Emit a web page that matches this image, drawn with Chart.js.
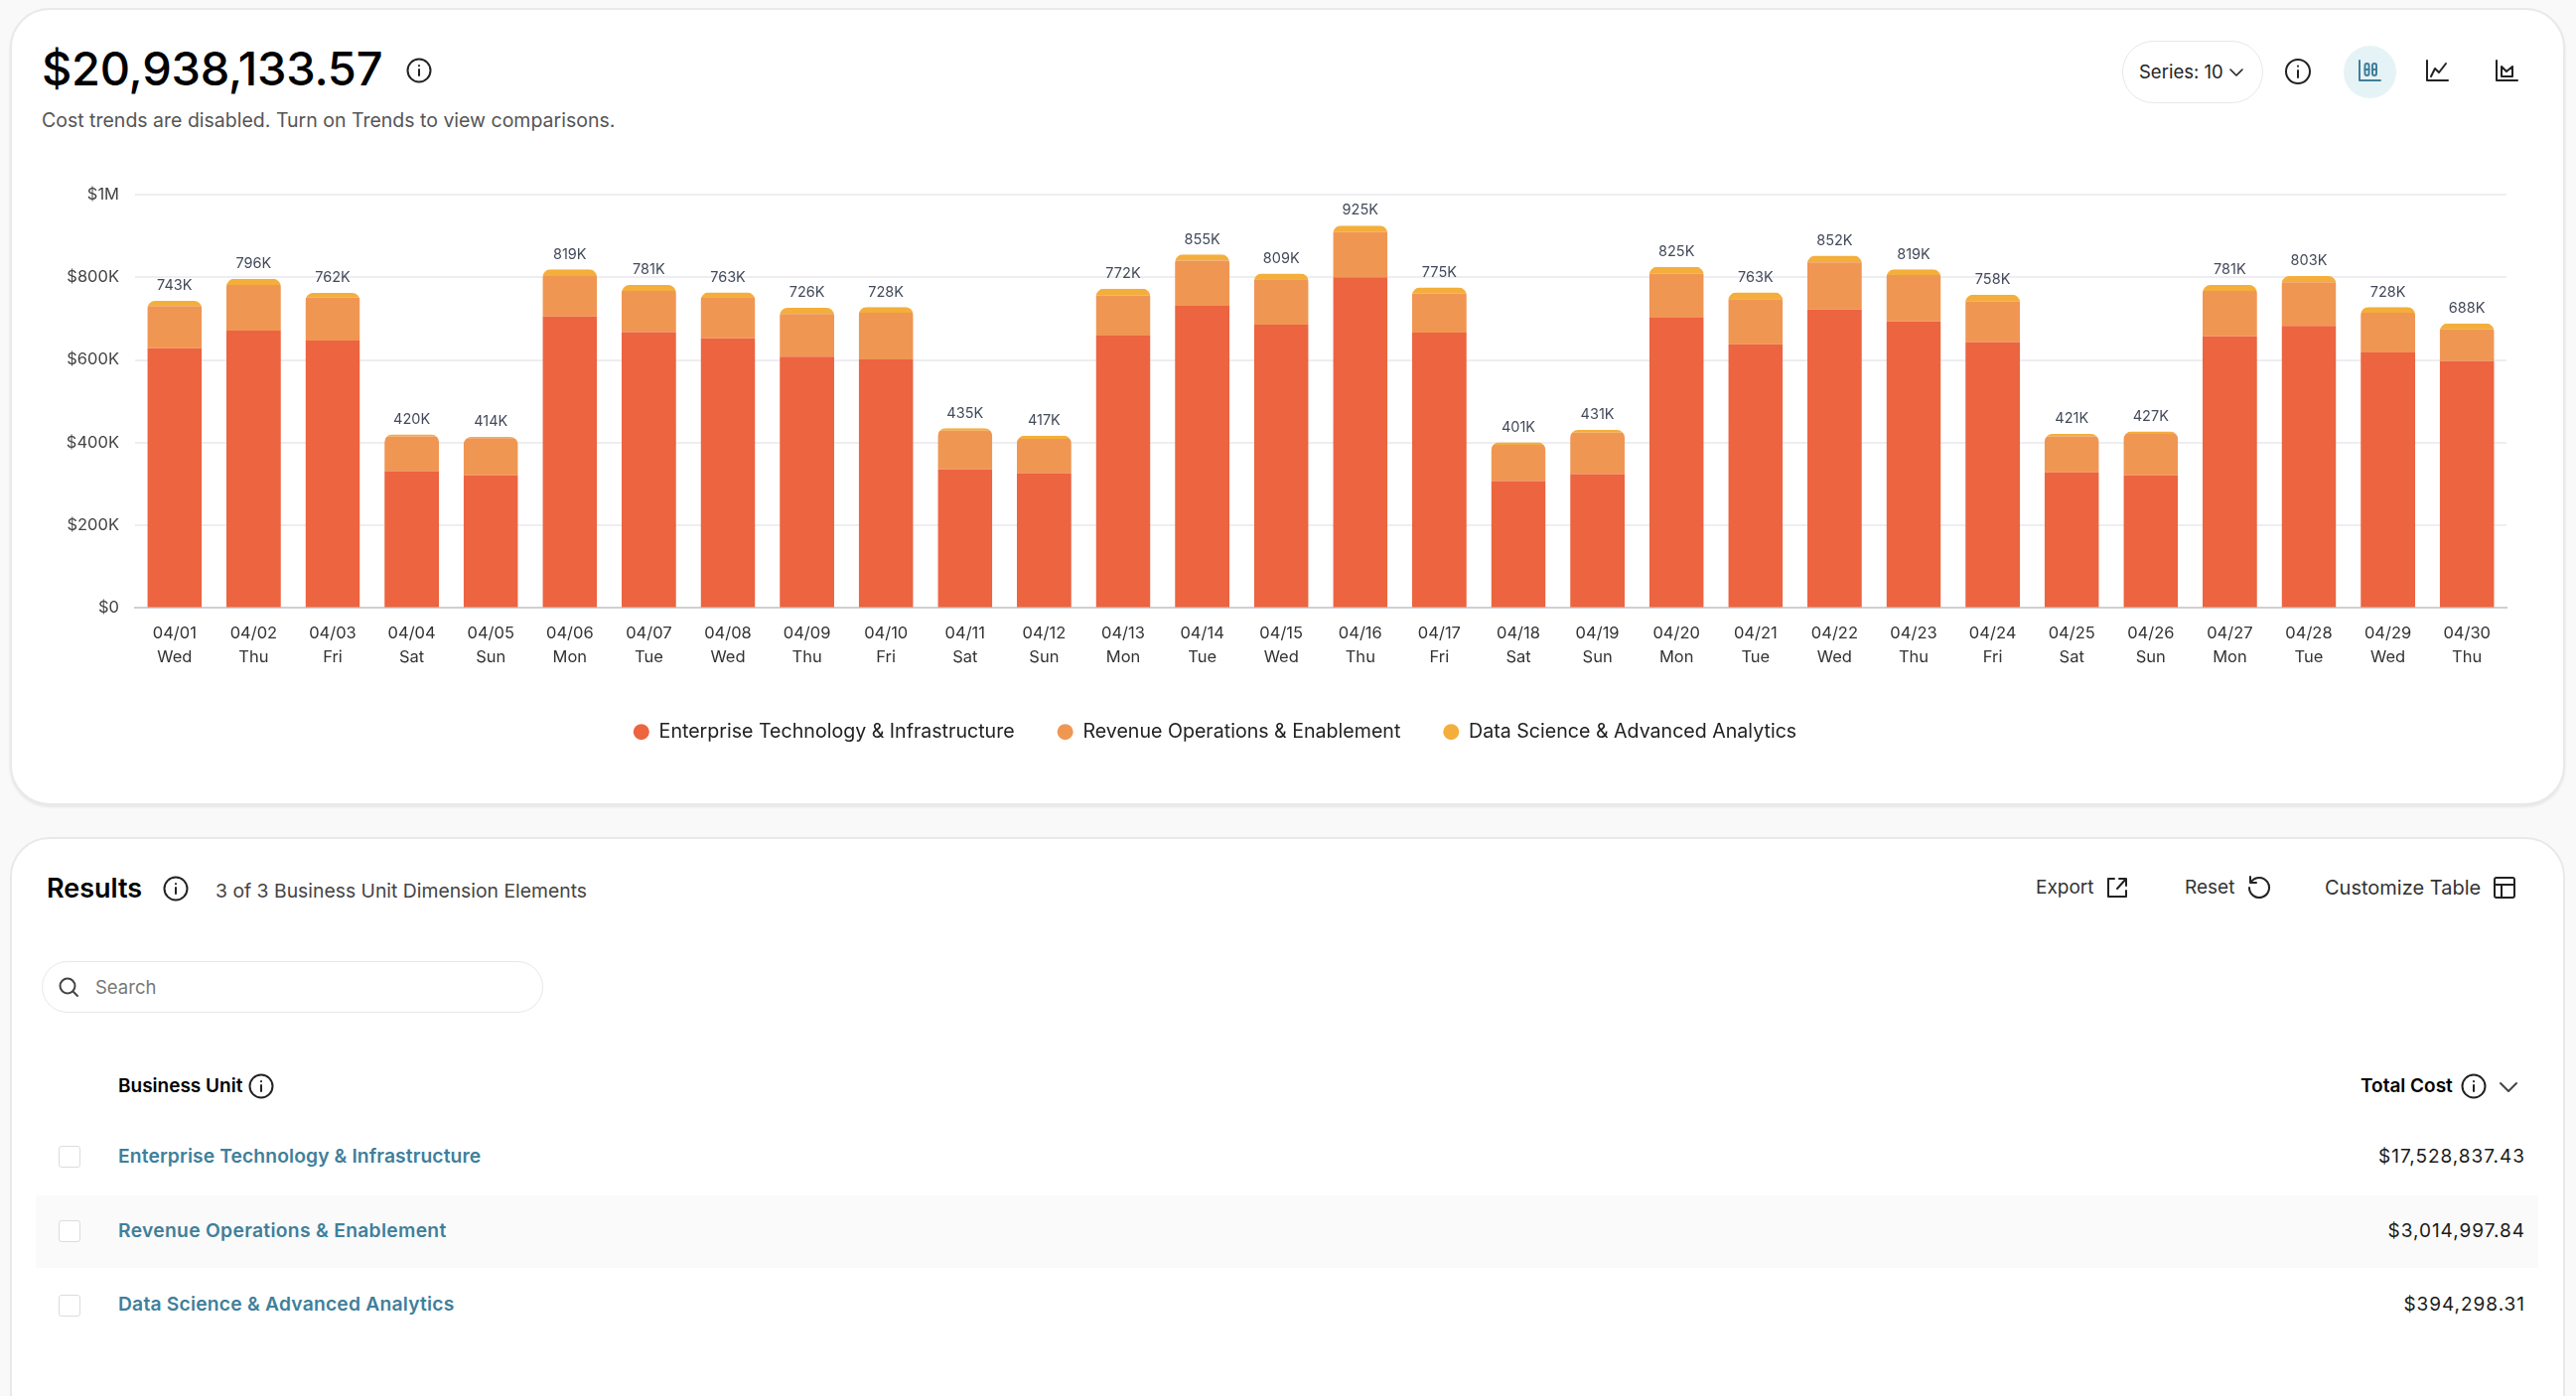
<!DOCTYPE html>
<html>
<head>
<meta charset="utf-8">
<title>Cost by Business Unit</title>
<script src="https://cdn.jsdelivr.net/npm/chart.js@4"></script>
<style>
html, body { margin: 0; height: 100%; background: #f9f9fa; overflow: hidden; font-family: Inter, "Noto Sans", sans-serif; color: #111; }
.card { position: absolute; left: 10px; width: 2573px; background: #fff; border: 2px solid #e9e9ec; box-sizing: border-box; border-radius: 40px; }
.t { position: absolute; white-space: nowrap; transform: translateY(-50%); line-height: 1.2; }
.r { transform: translate(-100%, -50%); }
.ic { position: absolute; transform: translate(-50%, -50%); fill: none; stroke: #222; stroke-width: 2; stroke-linecap: round; stroke-linejoin: round; }
.link { color: #3f7f9b; font-weight: 600; font-size: 19.3px; letter-spacing: 0.1px; }
.amount { font-size: 19px; letter-spacing: 0.97px; color: #1a1a1a; }
.action { font-size: 19px; color: #333; }
.head { font-size: 19px; font-weight: 600; color: #000; }
.check { position: absolute; left: 59px; width: 22px; height: 22px; box-sizing: border-box; border: 1.5px solid #dcdcdf; border-radius: 3px; background: #fff; transform: translateY(-50%); }
#chartBox { position: absolute; left: -77px; top: 170px; width: 2610px; height: 587px; }
</style>
</head>
<body>

<div class="card" style="top:8px;height:803px;box-shadow:0 2px 3px rgba(0,0,0,.08)"></div>
<div class="card" style="top:843px;height:700px"></div>

<div class="t" style="left:42px;top:69px;font-size:47px;font-weight:500;color:#000;letter-spacing:-0.27px">$20,938,133.57</div>
<svg class="ic" style="left:422px;top:71px" width="26" height="26" viewBox="0 0 26 26"><circle cx="13" cy="13" r="11.5"/><path d="M13 12v6M13 8v.2"/></svg>
<div class="t" style="left:42px;top:122px;font-size:19.5px;color:#555">Cost trends are disabled. Turn on Trends to view comparisons.</div>

<div style="position:absolute;left:2137px;top:41px;width:142px;height:63px;box-sizing:border-box;border:1.5px solid #e8e8ea;border-radius:32px"></div>
<div class="t" style="left:2154px;top:72px;font-size:18.5px;color:#222">Series: 10</div>
<svg class="ic" style="left:2252px;top:73px" width="16" height="10" viewBox="0 0 16 10"><path d="M2 2l6 6 6-6" stroke-width="1.6"/></svg>
<svg class="ic" style="left:2314px;top:72px" width="28" height="28" viewBox="0 0 28 28"><circle cx="14" cy="14" r="12"/><path d="M14 13v7M14 8.5v.2"/></svg>
<div style="position:absolute;left:2360px;top:46px;width:53px;height:53px;border-radius:50%;background:#e6f3f6"></div>
<svg class="ic" style="left:2386px;top:72px;stroke:#3f7f9b" width="26" height="26" viewBox="0 0 26 26"><path d="M3 2v20h21"/><rect x="8.500" y="5" width="4" height="12" rx="2"/><rect x="16" y="5" width="4" height="12" rx="2"/><path d="M8.500 11h4M16 11h4"/></svg>
<svg class="ic" style="left:2454px;top:72px" width="26" height="26" viewBox="0 0 26 26"><path d="M3 2v20h21"/><path d="M7 18l4-8 4 4 7-9"/></svg>
<svg class="ic" style="left:2524px;top:72px" width="26" height="26" viewBox="0 0 26 26"><path d="M3 2v20h21"/><path d="M8 18V8l5 5 6-5v10z"/></svg>

<div id="chartBox"><canvas id="costChart"></canvas></div>

<div class="t" style="left:47px;top:895px;font-size:27px;font-weight:600;color:#000">Results</div>
<svg class="ic" style="left:177px;top:895px" width="26" height="26" viewBox="0 0 26 26"><circle cx="13" cy="13" r="11.500"/><path d="M13 12v6M13 8v.2"/></svg>
<div class="t" style="left:217px;top:898px;font-size:19.35px;color:#444">3 of 3 Business Unit Dimension Elements</div>

<div class="t action" style="left:2050px;top:894px">Export</div>
<svg class="ic" style="left:2132px;top:894px" width="24" height="24" viewBox="0 0 24 24"><path d="M9 3H3v18h18v-6M14 3h7v7M21 3l-9 10"/></svg>
<div class="t action" style="left:2200px;top:894px">Reset</div>
<svg class="ic" style="left:2274px;top:894px" width="26" height="26" viewBox="0 0 26 26"><path d="M6 7a10 10 0 1 1-2 6M5 2v6h6"/></svg>
<div class="t action" style="left:2341px;top:894px;font-size:20px">Customize Table</div>
<svg class="ic" style="left:2522px;top:894px" width="24" height="24" viewBox="0 0 24 24"><rect x="2" y="2" width="20" height="20" rx="2"/><path d="M2 9h20M9 9v13"/></svg>

<div style="position:absolute;left:42px;top:968px;width:505px;height:52px;box-sizing:border-box;border:1.500px solid #e8e8ea;border-radius:26px"></div>
<svg class="ic" style="left:69px;top:994px;stroke:#444" width="22" height="22" viewBox="0 0 22 22"><circle cx="10" cy="10" r="7.500"/><path d="M16 16l4 4"/></svg>
<div class="t" style="left:96px;top:994px;font-size:18.500px;color:#777">Search</div>

<div class="t head" style="left:119px;top:1094px">Business Unit</div>
<svg class="ic" style="left:263px;top:1094px" width="26" height="26" viewBox="0 0 26 26"><circle cx="13" cy="13" r="11.500"/><path d="M13 12v6M13 8v.2"/></svg>
<div class="t head" style="left:2377px;top:1094px">Total Cost</div>
<svg class="ic" style="left:2491px;top:1094px" width="26" height="26" viewBox="0 0 26 26"><circle cx="13" cy="13" r="11.500"/><path d="M13 12v6M13 8v.2"/></svg>
<svg class="ic" style="left:2526px;top:1095px;stroke:#444" width="20" height="12" viewBox="0 0 20 12"><path d="M2 2l8 8 8-8"/></svg>

<div style="position:absolute;left:36px;top:1204px;width:2520px;height:73px;background:#fafafa"></div>
<div class="check" style="top:1165px"></div>
<div class="check" style="top:1240px"></div>
<div class="check" style="top:1315px"></div>
<div class="t link" style="left:119px;top:1165px">Enterprise Technology &amp; Infrastructure</div>
<div class="t link" style="left:119px;top:1240px;letter-spacing:0.3px">Revenue Operations &amp; Enablement</div>
<div class="t link" style="left:119px;top:1314px;letter-spacing:0.2px">Data Science &amp; Advanced Analytics</div>
<div class="t r amount" style="left:2543px;top:1165px">$17,528,837.43</div>
<div class="t r amount" style="left:2543px;top:1240px">$3,014,997.84</div>
<div class="t r amount" style="left:2543px;top:1314px">$394,298.31</div>

<script>
const dates = ["04/01","04/02","04/03","04/04","04/05","04/06","04/07","04/08","04/09","04/10",
    "04/11","04/12","04/13","04/14","04/15","04/16","04/17","04/18","04/19","04/20",
    "04/21","04/22","04/23","04/24","04/25","04/26","04/27","04/28","04/29","04/30"];
const weekdays = ["Wed","Thu","Fri","Sat","Sun","Mon","Tue","Wed","Thu","Fri",
    "Sat","Sun","Mon","Tue","Wed","Thu","Fri","Sat","Sun","Mon",
    "Tue","Wed","Thu","Fri","Sat","Sun","Mon","Tue","Wed","Thu"];

// daily cost per business unit, in thousands
const enterpriseTech = [628,671,647,331,321,705,667,652,608,601,335,326,659,731,685,
    800,666,307,324,702,638,722,693,643,328,321,657,682,618,597];
const revenueOps = [102,110,104,84,90,98,100,98,103,113,94,83,97,109,110,
    109,95,88,100,107,109,114,112,98,87,100,110,106,96,77];
const dataScience = [13,15,11,5,3,16,14,13,15,14,6,8,16,15,14,
    16,14,6,7,16,16,16,14,17,6,6,14,15,14,14];

const yTickLabels = ["$0","$200K","$400K","$600K","$800K","$1M"];
const seriesNames = ["Enterprise Technology & Infrastructure","Revenue Operations & Enablement","Data Science & Advanced Analytics"];
const seriesColors = ["#ec6440","#f09653","#f4ae3c"];

Chart.defaults.font.family = "Inter, 'Noto Sans', sans-serif";
Chart.defaults.animation = false;

const totals = dates.map((_, i) => enterpriseTech[i] + revenueOps[i] + dataScience[i]);

// clips every stack to one rounded-top column, so thin top segments still get the full corner
const roundedStacks = {
    id: "roundedStacks",
    beforeDatasetsDraw(chart) {
        const { ctx, scales } = chart;
        const base = scales.y.getPixelForValue(0);
        ctx.save();
        ctx.beginPath();
        chart.getDatasetMeta(0).data.forEach((bar, i) => {
            const top = scales.y.getPixelForValue(totals[i]);
            ctx.roundRect(bar.x - bar.width / 2, top, bar.width, base - top, [8, 8, 0, 0]);
        });
        ctx.clip();
    },
    afterDatasetsDraw(chart) {
        chart.ctx.restore();
    }
};

// total above each stack
const totalLabels = {
    id: "totalLabels",
    afterDraw(chart) {
        const { ctx, scales } = chart;
        ctx.save();
        ctx.font = "14.5px Inter, 'Noto Sans', sans-serif";
        ctx.fillStyle = "#434a5a";
        ctx.textAlign = "center";
        ctx.textBaseline = "middle";
        chart.getDatasetMeta(0).data.forEach((bar, i) => {
            ctx.fillText(totals[i] + "K", bar.x, scales.y.getPixelForValue(totals[i]) - 15);
        });
        ctx.restore();
    }
};

new Chart(document.getElementById("costChart"), {
    type: "bar",
    data: {
        labels: dates.map((d, i) => [d, weekdays[i]]),
        datasets: [enterpriseTech, revenueOps, dataScience].map((values, i) => ({
            label: seriesNames[i],
            data: values,
            backgroundColor: seriesColors[i],
            borderWidth: 0,
            categoryPercentage: 1,
            barPercentage: 0.69
        }))
    },
    options: {
        responsive: true,
        maintainAspectRatio: false,
        layout: { padding: { top: 21.5, right: 9 } },
        scales: {
            x: {
                stacked: true,
                grid: { display: false },
                border: { color: "#cfcfd3", width: 2 },
                ticks: { color: "#333", font: { size: 16.5, lineHeight: 1.45 }, padding: 6, maxRotation: 0, autoSkip: false },
                afterFit(scale) { scale.height = 72; }
            },
            y: {
                stacked: true,
                min: 0,
                max: 1000,
                grid: { color: "#eeeef2", lineWidth: 2, drawTicks: false },
                border: { display: false },
                ticks: {
                    stepSize: 200,
                    color: "#444",
                    font: { size: 16.5 },
                    padding: 16,
                    callback: (value) => yTickLabels[value / 200]
                },
                afterFit(scale) { scale.width = 213; }
            }
        },
        plugins: {
            tooltip: { enabled: false },
            legend: {
                position: "bottom",
                labels: {
                    usePointStyle: true,
                    pointStyle: "circle",
                    boxWidth: 16,
                    boxHeight: 11.3,
                    padding: 43,
                    color: "#222",
                    font: { size: 19.6 }
                }
            }
        }
    },
    plugins: [roundedStacks, totalLabels]
});
</script>
</body>
</html>
